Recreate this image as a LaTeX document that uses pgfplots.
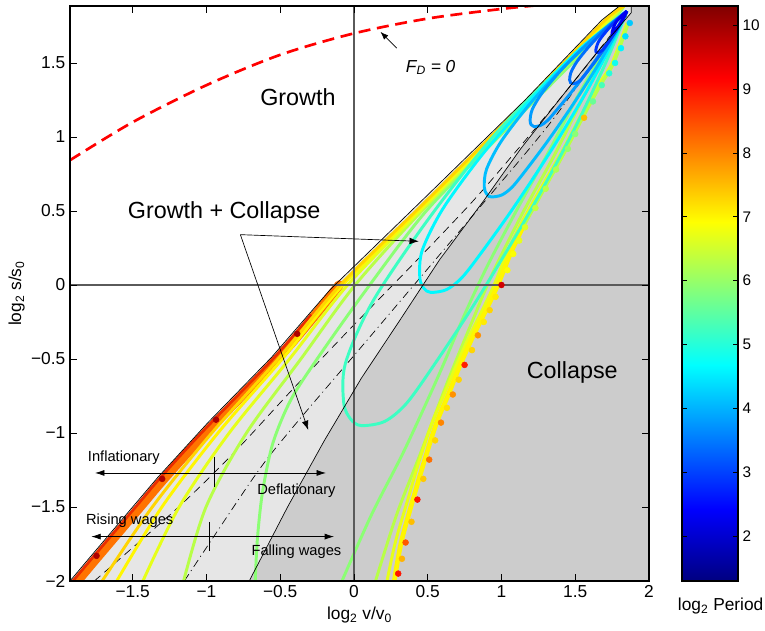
\documentclass[border=0pt]{standalone}
\usepackage{fontspec}
\setmainfont{Liberation Sans}
\usepackage{pgfplots}
\pgfplotsset{compat=1.18}
\usetikzlibrary{arrows.meta}

\definecolor{dgray}{RGB}{204,204,204}
\definecolor{lgray}{RGB}{230,230,230}
\definecolor{axgray}{RGB}{90,90,90}
\definecolor{cL1}{RGB}{139,255,116}
\definecolor{cL2}{RGB}{184,255,71}
\definecolor{cL3}{RGB}{230,255,25}
\definecolor{cL4}{RGB}{255,246,0}
\definecolor{cL5}{RGB}{255,213,0}
\definecolor{cband}{RGB}{255,115,0}
\definecolor{cbandred}{RGB}{235,45,0}
\definecolor{cO1}{RGB}{0,0,241}
\definecolor{cO2}{RGB}{0,54,255}
\definecolor{cO3}{RGB}{0,111,255}
\definecolor{cO4}{RGB}{0,156,255}
\definecolor{cO5}{RGB}{0,190,255}
\definecolor{cO6}{RGB}{0,249,255}
\definecolor{cO7}{RGB}{60,255,195}

\newcommand{\bigf}{\fontsize{17.5}{20}\selectfont}
\newcommand{\smallf}{\fontsize{11}{13}\selectfont}
\newcommand{\tickf}{\fontsize{13}{15}\selectfont}

\begin{document}
\begin{tikzpicture}
\useasboundingbox (-52.5pt,-37.5pt) rectangle (521.25pt,435.75pt);
\begin{axis}[
  at={(0pt,0pt)}, anchor=south west,
  scale only axis, width=434.25pt, height=431.25pt,
  xmin=-1.925, xmax=2, ymin=-2, ymax=1.885,
  xtick={-1.5,-1,-0.5,0,0.5,1,1.5,2},
  xticklabels={−1.5,−1,−0.5,0,0.5,1,1.5,2},
  ytick={-2,-1.5,-1,-0.5,0,0.5,1,1.5},
  yticklabels={−2,−1.5,−1,−0.5,0,0.5,1,1.5},
  tick label style={font=\tickf},
  tick align=inside, major tick length=5pt,
  every tick/.style={black, line width=0.5pt},
  axis line style={line width=0.8pt},
  xlabel={log\textsubscript{2} v/v\textsubscript{0}},
  ylabel={log\textsubscript{2} s/s\textsubscript{0}},
  xlabel style={font=\tickf, at={(axis description cs:0.5,-0.0376)}, anchor=north},
  ylabel style={font=\tickf, at={(axis description cs:-0.0701,0.5)}, anchor=south},
  axis on top,
  colormap/jet,
  point meta min=1.3, point meta max=10.3,
]
% regions
\addplot[draw=none, fill=dgray] coordinates {(-0.71,-2) (-0.45,-1.5) (-0.20,-1.05) (0.05,-0.63) (0.31,-0.24) (0.58,0.17) (0.88,0.57) (1.13,0.92) (1.39,1.25) (1.63,1.55) (1.88,1.84) (1.88,1.885) (2,1.885) (2,-2)} -- cycle;
\addplot[draw=none, fill=lgray] coordinates {(-1.925,-2) (-1.79,-1.84) (-1.33,-1.30) (-0.99,-0.93) (-0.56,-0.49) (-0.16,-0.03) (0.46,0.57) (1.16,1.25) (1.68,1.79) (1.80,1.885) (1.88,1.885) (1.88,1.84) (1.63,1.55) (1.39,1.25) (1.13,0.92) (0.88,0.57) (0.58,0.17) (0.31,-0.24) (0.05,-0.63) (-0.20,-1.05) (-0.45,-1.5) (-0.71,-2)} -- cycle;

% dashed and dash-dot lines
\addplot[black, line width=0.5pt, dash pattern=on 6pt off 4pt, smooth] coordinates {(-1.76,-2) (-1.20,-1.51) (-0.82,-1.14) (-0.43,-0.72) (-0.02,-0.29) (0.40,0.14) (0.80,0.56) (1.07,0.87) (1.34,1.19) (1.6,1.51) (1.85,1.83)};
\addplot[black, line width=0.5pt, dash pattern=on 6pt off 3pt on 0.8pt off 3pt, smooth] coordinates {(-1.15,-2) (-0.68,-1.30) (-0.43,-0.98) (0.10,-0.36) (0.84,0.51) (1.35,1.12) (1.85,1.82)};

% band along the upper boundary
\addplot[cband, line width=7pt, line cap=round, smooth] coordinates {(-1.96,-2.1) (-1.875,-2) (-1.74,-1.84) (-1.45,-1.5) (-1.28,-1.3) (-1.005,-1.0) (-0.52,-0.5) (-0.26,-0.2) (-0.10,0.0)};
\addplot[cbandred, line width=2pt, smooth] coordinates {(-1.95,-2.05) (-1.905,-2) (-1.77,-1.84) (-1.48,-1.5) (-1.31,-1.3) (-1.035,-1.0) (-0.55,-0.5) (-0.29,-0.2)};

% open orbits, left branches
\addplot[cL1, line width=2.2pt, smooth] coordinates {(-0.67,-2.02) (-0.655,-1.72) (-0.62,-1.40) (-0.55,-1.07) (-0.43,-0.78) (-0.25,-0.5) (0.07,-0.05) (0.49,0.5) (0.98,1.0) (1.48,1.5) (1.765,1.8) (1.83,1.885)};
\addplot[cL2, line width=2.2pt, smooth] coordinates {(-1.16,-2.02) (-1.003,-1.5) (-0.729,-1.0) (-0.36,-0.5) (0.008,0) (0.46,0.5) (0.96,1.0) (1.46,1.5) (1.75,1.8) (1.83,1.885)};
\addplot[cL3, line width=2.2pt, smooth] coordinates {(-1.44,-2.02) (-1.185,-1.5) (-0.846,-1.0) (-0.437,-0.5) (-0.043,0) (0.445,0.5) (0.945,1.0) (1.445,1.5) (1.735,1.8) (1.83,1.885)};
\addplot[cL4, line width=2.2pt, smooth] coordinates {(-1.62,-2.02) (-1.302,-1.5) (-0.922,-1.0) (-0.486,-0.5) (-0.075,0) (0.43,0.5) (0.93,1.0) (1.43,1.5) (1.72,1.8) (1.83,1.885)};
\addplot[cL5, line width=2.2pt, smooth] coordinates {(-1.72,-2.02) (-1.367,-1.5) (-0.964,-1.0) (-0.514,-0.5) (-0.093,0) (0.42,0.5) (0.925,1.0) (1.42,1.5) (1.713,1.8) (1.83,1.885)};

% open orbits, right branches
\addplot[cL1, line width=2.2pt, smooth] coordinates {(-0.09,-2.02) (0.12,-1.55) (0.34,-1.12) (0.57,-0.62) (0.75,-0.2) (0.90,0.12) (1.10,0.5) (1.32,0.9) (1.53,1.3) (1.71,1.6) (1.85,1.85)};
\addplot[cL2, line width=2.2pt, smooth] coordinates {(0.14,-2.02) (0.29,-1.55) (0.45,-1.14) (0.64,-0.64) (0.80,-0.25) (0.94,0.08) (1.14,0.48) (1.36,0.88) (1.56,1.28) (1.73,1.6) (1.85,1.85)};
\addplot[cL3, line width=2.2pt, smooth] coordinates {(0.22,-2.02) (0.28,-1.74) (0.365,-1.45) (0.445,-1.18) (0.53,-0.93) (0.61,-0.74) (0.695,-0.54) (0.785,-0.34) (0.87,-0.17) (0.95,0.0) (1.035,0.21) (1.12,0.39) (1.265,0.65) (1.42,0.92) (1.53,1.13) (1.655,1.35) (1.75,1.5) (1.85,1.77)};
\addplot[cL4, line width=3.5pt, smooth] coordinates {(0.27,-2.02) (0.32,-1.74) (0.40,-1.45) (0.48,-1.18) (0.56,-0.93) (0.64,-0.74) (0.72,-0.54) (0.81,-0.34) (0.895,-0.17) (0.975,0.0) (1.06,0.21) (1.145,0.39)};
\addplot[cL2, line width=2.5pt, smooth] coordinates {(1.145,0.39) (1.29,0.65) (1.44,0.92) (1.55,1.13) (1.67,1.35) (1.76,1.5) (1.86,1.77)};

% bumps along the right edge and notches on the upper boundary
\addplot[scatter, only marks, mark=*, mark size=2.2pt, point meta=explicit,
  scatter/use mapped color={draw=mapped color, fill=mapped color}] coordinates {
  (0.30,-1.95) [9.0] (0.325,-1.85) [7.6] (0.35,-1.74) [8.4] (0.39,-1.60) [7.5]
  (0.43,-1.45) [9.0] (0.47,-1.31) [7.4] (0.51,-1.18) [8.2] (0.55,-1.05) [7.3]
  (0.59,-0.93) [8.0] (0.63,-0.83) [7.2] (0.67,-0.74) [7.9] (0.71,-0.64) [7.3]
  (0.75,-0.54) [8.9] (0.80,-0.44) [7.3] (0.84,-0.34) [7.9] (0.88,-0.25) [7.1]
  (0.92,-0.17) [7.3] (0.96,-0.08) [7.1] (1.0,0.0) [9.6] (1.04,0.10) [6.9]
  (1.08,0.21) [6.9] (1.12,0.30) [6.7] (1.16,0.39) [6.6] (1.23,0.52) [6.4]
  (1.30,0.65) [6.3] (1.37,0.78) [6.2] (1.45,0.92) [6.0] (1.50,1.02) [5.9]
  (1.56,1.13) [7.5] (1.62,1.24) [5.6] (1.68,1.35) [5.3] (1.73,1.43) [5.0]
  (1.77,1.5) [4.8] (1.81,1.6) [4.6] (1.84,1.68) [4.4] (1.87,1.77) [4.2]
  (-1.745,-1.83) [9.9] (-1.30,-1.31) [9.9] (-0.935,-0.91) [9.9] (-0.385,-0.33) [9.9]
};

% closed orbits
\addplot[cO7, line width=2.2pt, smooth] coordinates {(1.85,1.85) (1.42,1.486) (0.95,1.01) (0.508,0.45) (0.128,-0.11) (-0.058,-0.53) (-0.069,-0.799) (-0.021,-0.908) (0.05,-0.95) (0.208,-0.922) (0.357,-0.799) (0.55,-0.53) (0.828,-0.11) (1.166,0.45) (1.472,1.01) (1.70,1.486) (1.85,1.85)};
\addplot[cO6, line width=2.2pt, smooth] coordinates {(1.85,1.85) (1.54,1.603) (1.223,1.28) (0.885,0.90) (0.606,0.52) (0.463,0.235) (0.446,0.053) (0.473,-0.0215) (0.52,-0.05) (0.628,-0.031) (0.735,0.053) (0.876,0.235) (1.08,0.52) (1.331,0.90) (1.561,1.28) (1.734,1.603) (1.85,1.85)};
\addplot[cO5, line width=2.2pt, smooth] coordinates {(1.85,1.85) (1.655,1.687) (1.423,1.474) (1.192,1.223) (0.999,0.972) (0.899,0.783) (0.883,0.663) (0.900,0.614) (0.93,0.595) (1.002,0.608) (1.074,0.663) (1.171,0.783) (1.313,0.972) (1.487,1.223) (1.647,1.474) (1.768,1.687) (1.85,1.85)};
\addplot[cO4, line width=2.2pt, smooth] coordinates {(1.85,1.85) (1.721,1.749) (1.567,1.616) (1.412,1.46) (1.28,1.304) (1.209,1.187) (1.194,1.112) (1.202,1.082) (1.22,1.07) (1.265,1.078) (1.313,1.112) (1.378,1.187) (1.475,1.304) (1.595,1.46) (1.706,1.616) (1.791,1.749) (1.85,1.85)};
\addplot[cO3, line width=2.2pt, smooth] coordinates {(1.85,1.85) (1.773,1.786) (1.68,1.703) (1.588,1.605) (1.51,1.507) (1.47,1.4335) (1.462,1.386) (1.468,1.367) (1.48,1.36) (1.508,1.365) (1.537,1.386) (1.576,1.4335) (1.633,1.507) (1.703,1.605) (1.767,1.703) (1.817,1.786) (1.85,1.85)};
\addplot[cO2, line width=2.2pt, smooth] coordinates {(1.85,1.85) (1.756,1.766) (1.664,1.654) (1.639,1.585) (1.65,1.57) (1.682,1.585) (1.734,1.654) (1.806,1.766) (1.85,1.85)};
\addplot[cO1, line width=2.2pt, smooth] coordinates {(1.85,1.85) (1.776,1.775) (1.75,1.70) (1.812,1.775) (1.85,1.85)};

% zero lines
\addplot[axgray, line width=0.9pt] coordinates {(0,-2) (0,1.885)};
\addplot[axgray, line width=0.9pt] coordinates {(-1.925,0) (2,0)};

% region boundaries
\addplot[black, line width=0.5pt] coordinates {(-1.925,-2) (-1.79,-1.84) (-1.33,-1.30) (-0.99,-0.93) (-0.56,-0.49) (-0.16,-0.03) (0.46,0.57) (1.16,1.25) (1.68,1.79) (1.80,1.885)};
\addplot[black, line width=0.5pt] coordinates {(-0.71,-2) (-0.45,-1.5) (-0.20,-1.05) (0.05,-0.63) (0.31,-0.24) (0.58,0.17) (0.88,0.57) (1.13,0.92) (1.39,1.25) (1.63,1.55) (1.88,1.84) (1.88,1.885)};

% F_D = 0
\addplot[red, line width=2pt, dash pattern=on 9pt off 5pt, smooth] coordinates {(-1.925,0.843) (-1.5,1.10) (-1.0,1.35) (-0.5,1.555) (0,1.70) (0.5,1.80) (1.0,1.865) (1.3,1.895)};

% annotations
\draw[-{Latex[length=6pt,width=4.5pt]}, line width=0.5pt] (axis cs:0.29,1.60) -- (axis cs:0.18,1.71);
\node[font=\fontsize{13}{15}\selectfont] at (axis cs:0.52,1.47) {\itshape F\textsubscript{D} = 0};
\node[font=\bigf] at (axis cs:-0.38,1.27) {Growth};
\node[font=\bigf] at (axis cs:-0.88,0.49) {Growth + Collapse};
\node[font=\bigf] at (axis cs:1.48,-0.59) {Collapse};
\draw[-{Latex[length=7pt,width=5pt]}, line width=0.5pt] (axis cs:-0.77,0.34) -- (axis cs:0.44,0.295);
\draw[-{Latex[length=7pt,width=5pt]}, line width=0.5pt] (axis cs:-0.77,0.34) -- (axis cs:-0.31,-0.98);
\draw[{Latex[length=7pt,width=4.5pt]}-{Latex[length=7pt,width=4.5pt]}, line width=0.5pt] (axis cs:-1.755,-1.27) -- (axis cs:-0.19,-1.27);
\draw[line width=0.5pt] (axis cs:-0.945,-1.16) -- (axis cs:-0.945,-1.365);
\draw[{Latex[length=7pt,width=4.5pt]}-{Latex[length=7pt,width=4.5pt]}, line width=0.5pt] (axis cs:-1.78,-1.70) -- (axis cs:-0.135,-1.70);
\draw[line width=0.5pt] (axis cs:-0.98,-1.60) -- (axis cs:-0.98,-1.80);
\node[font=\smallf] at (axis cs:-1.56,-1.17) {Inflationary};
\node[font=\smallf] at (axis cs:-0.39,-1.39) {Deflationary};
\node[font=\smallf] at (axis cs:-1.52,-1.595) {Rising wages};
\node[font=\smallf] at (axis cs:-0.39,-1.80) {Falling wages};
\end{axis}

% colour scale
\begin{axis}[
  at={(459pt,0pt)}, anchor=south west,
  scale only axis, width=42pt, height=431.25pt,
  xmin=0, xmax=1, ymin=1.3, ymax=10.3,
  xtick=\empty,
  ytick={2,3,4,5,6,7,8,9,10},
  yticklabels={2,3,4,5,6,7,8,9,10},
  yticklabel pos=right,
  yticklabel style={font=\fontsize{11.5}{13}\selectfont},
  tick align=inside, major tick length=4pt,
  every tick/.style={black, line width=0.5pt},
  axis line style={line width=0.8pt},
  axis on top,
  colormap/jet,
  point meta min=1.3, point meta max=10.3,
  xlabel={log\textsubscript{2} Period},
  xlabel style={font=\tickf, at={(axis description cs:0.69,-0.022)}, anchor=north},
]
\addplot[patch, patch type=rectangle, shader=interp, point meta=explicit] coordinates {
  (0,1.3) [1.3] (1,1.3) [1.3] (1,2.425) [2.425] (0,2.425) [2.425]
  (0,2.425) [2.425] (1,2.425) [2.425] (1,4.675) [4.675] (0,4.675) [4.675]
  (0,4.675) [4.675] (1,4.675) [4.675] (1,6.925) [6.925] (0,6.925) [6.925]
  (0,6.925) [6.925] (1,6.925) [6.925] (1,9.175) [9.175] (0,9.175) [9.175]
  (0,9.175) [9.175] (1,9.175) [9.175] (1,10.3) [10.3] (0,10.3) [10.3]
};
\end{axis}
\end{tikzpicture}
\end{document}
